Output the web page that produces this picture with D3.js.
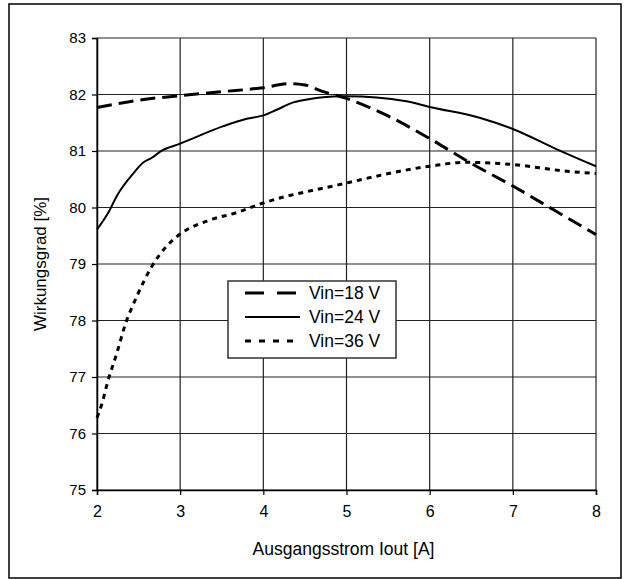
<!DOCTYPE html>
<html>
<head>
<meta charset="utf-8">
<script src="https://cdn.jsdelivr.net/npm/d3@7"></script>
<style>
  html, body { margin: 0; padding: 0; background: #fff; }
  svg { display: block; font-family: Arial, "Liberation Sans", sans-serif; }
</style>
</head>
<body>
<div id="chart"></div>
<script>
// efficiency curves
const xTicks = [2, 3, 4, 5, 6, 7, 8];
const yTicks = [75, 76, 77, 78, 79, 80, 81, 82, 83];

const vin18 = [
  [2.0, 81.77], [2.5, 81.9], [3.0, 81.98], [3.5, 82.05], [4.0, 82.12], [4.3, 82.19],
  [4.5, 82.17], [4.7, 82.06], [5.0, 81.93], [5.5, 81.62], [6.0, 81.22], [6.5, 80.78],
  [7.0, 80.38], [7.5, 79.95], [8.0, 79.52]
];
const vin24 = [
  [2.0, 79.61], [2.14, 79.92], [2.24, 80.21], [2.44, 80.61], [2.56, 80.8], [2.66, 80.88],
  [2.76, 80.99], [3.0, 81.13], [3.52, 81.44], [3.8, 81.57], [4.0, 81.63], [4.16, 81.73],
  [4.36, 81.86], [4.56, 81.92], [4.92, 81.97], [5.0, 81.97], [5.72, 81.88], [6.0, 81.78],
  [6.6, 81.59], [7.0, 81.39], [7.53, 81.03], [8.0, 80.73]
];
const vin36 = [
  [2.0, 76.28], [2.07, 76.58], [2.12, 76.87], [2.24, 77.43], [2.34, 77.93], [2.48, 78.43],
  [2.66, 78.96], [2.84, 79.32], [3.0, 79.53], [3.32, 79.76], [3.68, 79.91], [4.0, 80.08],
  [4.9, 80.4], [6.0, 80.73], [6.44, 80.8], [7.0, 80.76], [7.6, 80.65], [8.0, 80.6]
];
const seriesNames = ['Vin=18 V', 'Vin=24 V', 'Vin=36 V'];

const width = 626, height = 579;
const margin = { left: 97, right: 30, top: 38, bottom: 89 };

const svg = d3.select('#chart').append('svg').attr('width', width).attr('height', height);

// outer frame
svg.append('rect').attr('x', 9).attr('y', 4).attr('width', 612).attr('height', 574)
  .attr('fill', 'none').attr('stroke', '#000').attr('stroke-width', 1.5);

const x = d3.scaleLinear().domain([2, 8]).range([margin.left, width - margin.right]);
const y = d3.scaleLinear().domain([75, 83]).range([height - margin.bottom, margin.top]);

// grid
const grid = svg.append('g').attr('stroke', '#222').attr('stroke-width', 1.2);
grid.selectAll('line.v').data(xTicks).join('line').attr('class', 'v')
  .attr('x1', d => x(d)).attr('x2', d => x(d)).attr('y1', y(75)).attr('y2', y(83));
grid.selectAll('line.h').data(yTicks).join('line').attr('class', 'h')
  .attr('x1', x(2)).attr('x2', x(8)).attr('y1', d => y(d)).attr('y2', d => y(d));

// axes
const xAxis = svg.append('g').attr('transform', `translate(0,${y(75)})`)
  .call(d3.axisBottom(x).tickValues(xTicks).tickFormat(d3.format('d')).tickSize(5).tickPadding(11));
const yAxis = svg.append('g').attr('transform', `translate(${x(2)},0)`)
  .call(d3.axisLeft(y).tickValues(yTicks).tickFormat(d3.format('d')).tickSize(5).tickPadding(6));
[xAxis, yAxis].forEach(a => {
  a.select('.domain').attr('stroke', '#000').attr('stroke-width', 1.5);
  a.selectAll('.tick line').attr('stroke', '#000').attr('stroke-width', 1.2);
  a.selectAll('.tick text').attr('fill', '#000').style('font-size', '16px')
    .style('font-family', 'Arial, "Liberation Sans", sans-serif');
});
yAxis.selectAll('.tick text').style('font-size', '15px');

// axis titles
svg.append('text').attr('x', (x(2) + x(8)) / 2 - 3).attr('y', 555).attr('text-anchor', 'middle')
  .style('font-size', '17.5px').text('Ausgangsstrom Iout [A]');
svg.append('text').attr('transform', `translate(46,${(y(75) + y(83)) / 2}) rotate(-90)`)
  .attr('text-anchor', 'middle').style('font-size', '17px').text('Wirkungsgrad [%]');

// curves
const line = d3.line().x(d => x(d[0])).y(d => y(d[1])).curve(d3.curveMonotoneX);
const styles = [
  { data: vin18, width: 3, dash: '15,7', legendDash: '19,13' },
  { data: vin24, width: 2, dash: null, legendDash: null },
  { data: vin36, width: 3, dash: '5,5', legendDash: '6,8' }
];
svg.append('g').selectAll('path').data(styles).join('path')
  .attr('d', d => line(d.data))
  .attr('fill', 'none').attr('stroke', '#000')
  .attr('stroke-width', d => d.width)
  .attr('stroke-dasharray', d => d.dash);

// legend
const legend = svg.append('g');
legend.append('rect').attr('x', 228).attr('y', 281).attr('width', 168).attr('height', 77)
  .attr('fill', '#fff').attr('stroke', '#333').attr('stroke-width', 1.5);
const rows = legend.selectAll('g.row').data(styles).join('g').attr('class', 'row')
  .attr('transform', (d, i) => `translate(0,${293 + i * 24})`);
rows.append('line').attr('x1', 245).attr('x2', 300).attr('y1', 0).attr('y2', 0)
  .attr('stroke', '#000').attr('stroke-width', d => d.width)
  .attr('stroke-dasharray', d => d.legendDash);
rows.append('text').attr('x', 309).attr('y', 6).style('font-size', '17.5px')
  .text((d, i) => seriesNames[i]);
</script>
</body>
</html>
